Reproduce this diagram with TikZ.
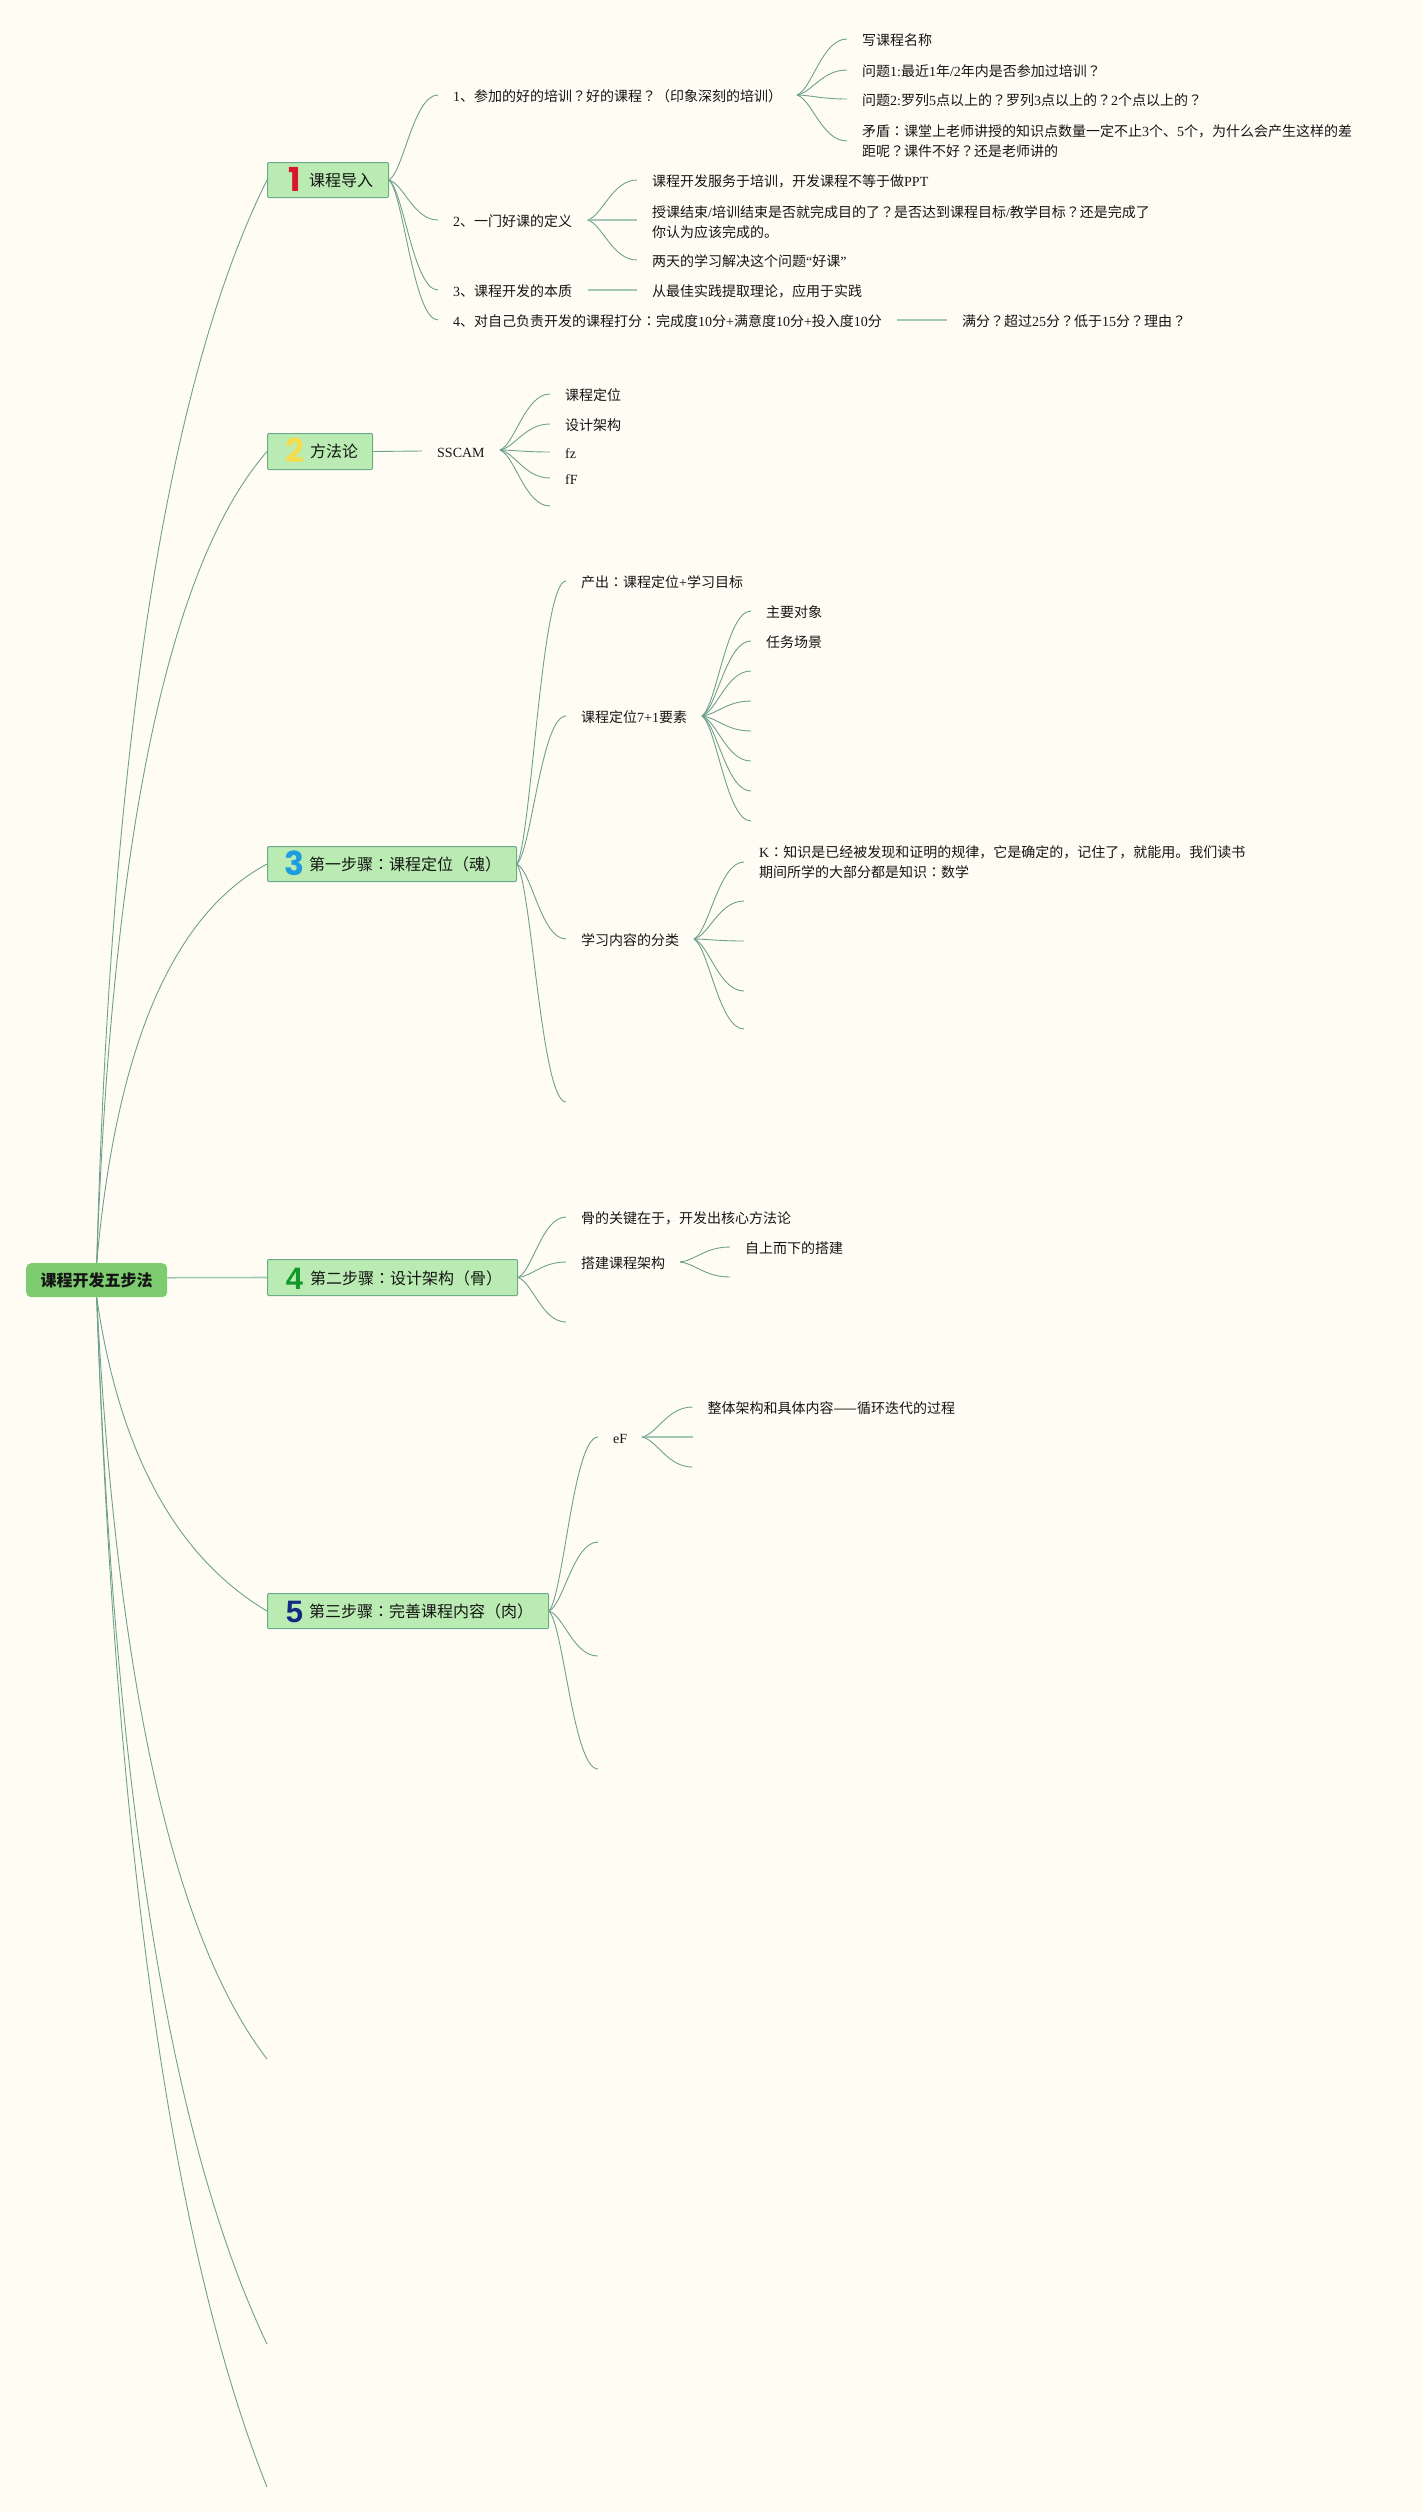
\documentclass[tikz,border=0pt]{standalone}
\usepackage{fontspec}
\usetikzlibrary{calc}
\setmainfont{Noto Sans CJK SC}
\newfontfamily\latf{Liberation Serif}
\newfontfamily\numf{Liberation Sans}
\newfontfamily\numg{Poppins}
\newfontfamily\jpf{Noto Sans CJK JP}
\newcommand\la[1]{{\latf #1}}
\catcode`\？=13 \def？{{\jpf\char"FF1F\relax}}
\catcode`\：=13 \def：{{\jpf\char"FF1A\relax}}
\definecolor{bgc}{HTML}{FFFDF3}
\definecolor{linec}{HTML}{6FA08D}
\definecolor{linel}{HTML}{A3C8B6}
\definecolor{boxf}{HTML}{BAEBB2}
\definecolor{boxd}{HTML}{6DA98C}
\definecolor{rootf}{HTML}{7ECC70}
\definecolor{txt}{HTML}{151515}
\definecolor{numa}{HTML}{D8172D}
\definecolor{numb}{HTML}{F5DC4E}
\definecolor{numc}{HTML}{1E9CE0}
\definecolor{numd}{HTML}{12982A}
\definecolor{nume}{HTML}{122A80}
\tikzset{
  conn/.style={draw=linec,line width=.9pt},
  thick line/.style={draw=linel,line width=1.6pt},
  lab/.style={anchor=west,inner xsep=15pt,inner ysep=0pt,text=txt,font=\fontsize{14}{20}\selectfont,text height=13.8pt,text depth=.2pt},
  mlab/.style={anchor=west,inner xsep=15pt,inner ysep=0pt,text=txt,font=\fontsize{14}{20}\selectfont,align=left},
  boxn/.style={draw=boxd,fill=boxf,line width=1pt,rounded corners=1pt,inner sep=0pt,anchor=north west},
  boxt/.style={anchor=west,inner sep=0pt,text=txt,font=\fontsize{16}{20}\selectfont,text height=14.3pt,text depth=1.3pt},
  numn/.style={inner sep=0pt,font=\fontsize{31}{31}\selectfont\numf\bfseries,text height=22.5pt,text depth=0pt},
  numr/.style={inner sep=0pt,font=\fontsize{33}{33}\selectfont\numg\bfseries,text height=23pt,text depth=0pt},
  rootn/.style={fill=rootf,rounded corners=5pt,inner sep=0pt,minimum width=141pt,minimum height=34pt,anchor=north west,text=txt,font=\fontsize{16}{20}\selectfont\bfseries}
}
\newcommand\cv[2]{\draw[conn] (#1) .. controls ($(#1)+0.3*(#2 |- #1)-0.3*(#1)+0.1*(#1 |- #2)-0.1*(#1)$) and ($(#1 |- #2)!.5!(#2)$) .. (#2);}
\begin{document}
\begin{tikzpicture}[x=1pt,y=-1pt]
\useasboundingbox (0,0) rectangle (1422,2513);
\fill[bgc] (0,0) rectangle (1422,2513);
% root and main boxes
\node[rootn] (root) at (26,1263) {课程开发五步法};
\node[boxn,minimum width=121pt,minimum height=35pt] (b1) at (267,162) {};
\node[boxn,minimum width=105pt,minimum height=36pt] (b2) at (267,433) {};
\node[boxn,minimum width=249pt,minimum height=35pt] (b3) at (267,846) {};
\node[boxn,minimum width=250pt,minimum height=36pt] (b4) at (267,1259) {};
\node[boxn,minimum width=281pt,minimum height=35pt] (b5) at (267,1593) {};
\node[numr,text=numa] (n1) at (295,180) {1};
\node[numr,text=numb] (n2) at (294.5,451) {2};
\node[numr,text=numc] (n3) at (294,864) {3};
\node[numn,text=numd] (n4) at (294.5,1278) {4};
\node[numn,text=nume] (n5) at (294.5,1611) {5};
\node[boxt] (t1) at (309,180) {课程导入};
\node[boxt] (t2) at (310,451) {方法论};
\node[boxt] (t3) at (309,864) {第一步骤：课程定位（魂）};
\node[boxt] (t4) at (310,1278) {第二步骤：设计架构（骨）};
\node[boxt] (t5) at (309,1611) {第三步骤：完善课程内容（肉）};
% free ends of the root
\coordinate (r6) at (267,2059);
\coordinate (r7) at (267,2344);
\coordinate (r8) at (267,2487);
\draw[conn] (root.north) .. controls (111,740) and (168,379) .. (b1.west);
\draw[conn] (root.north) .. controls (112,834) and (169,564) .. (b2.west);
\draw[conn] (root.north) .. controls (116,1048) and (172,915) .. (b3.west);
\draw[thick line] ([yshift=2.5pt]root.east) -- (b4.west);
\draw[conn] (root.south) .. controls (119,1452) and (176,1557) .. (b5.west);
\draw[conn] (root.south) .. controls (117,1684) and (174,1938) .. (r6);
\draw[conn] (root.south) .. controls (114,1792) and (170,2141) .. (r7);
\draw[conn] (root.south) .. controls (116,1852) and (172,2249) .. (r8);
% branch 1
\node[lab] (a1) at (438,95) {\la{1}、参加的好的培训？好的课程？（印象深刻的培训）};
\node[lab] (a2) at (438,220) {\la{2}、一门好课的定义};
\node[lab] (a3) at (438,290) {\la{3}、课程开发的本质};
\node[lab] (a4) at (438,320) {\la{4}、对自己负责开发的课程打分：完成度\la{10}分\la{+}满意度\la{10}分\la{+}投入度\la{10}分};
\cv{b1.east}{a1.west}\cv{b1.east}{a2.west}\cv{b1.east}{a3.west}\cv{b1.east}{a4.west}
\coordinate (f1) at (797,95);
\node[lab] (a11) at (847,39) {写课程名称};
\node[lab] (a12) at (847,70) {问题\la{1:}最近\la{1}年\la{/2}年内是否参加过培训？};
\node[lab] (a13) at (847,99) {问题\la{2:}罗列\la{5}点以上的？罗列\la{3}点以上的？\la{2}个点以上的？};
\node[mlab] (a14) at (847,141) {矛盾：课堂上老师讲授的知识点数量一定不止\la{3}个、\la{5}个，为什么会产生这样的差\\距呢？课件不好？还是老师讲的};
\cv{f1}{a11.west}\cv{f1}{a12.west}\cv{f1}{a13.west}\cv{f1}{a14.west}
\coordinate (f2) at (587.5,220);
\node[lab] (a21) at (637,180) {课程开发服务于培训，开发课程不等于做\la{PPT}};
\node[mlab] (a22) at (637,222) {授课结束\la{/}培训结束是否就完成目的了？是否达到课程目标\la{/}教学目标？还是完成了\\你认为应该完成的。};
\node[lab] (a23) at (637,260) {两天的学习解决这个问题\la{“}好课\la{”}};
\cv{f2}{a21.west}
\draw[thick line] (f2) -- (f2 -| a22.west);
\cv{f2}{a23.west}
\coordinate (f3) at (587.5,290);
\node[lab] (a31) at (637,290) {从最佳实践提取理论，应用于实践};
\draw[thick line] (f3) -- (a31.west);
\coordinate (f4) at (897,320);
\node[lab] (a41) at (947,320) {满分？超过\la{25}分？低于\la{15}分？理由？};
\draw[thick line] (f4) -- (a41.west);
% branch 2
\node[lab] (c1) at (422,451) {\la{SSCAM}};
\draw[conn] (b2.east) -- (c1.west);
\coordinate (f5) at (500,450);
\node[lab] (c11) at (550,394) {课程定位};
\node[lab] (c12) at (550,424) {设计架构};
\node[lab] (c13) at (550,452) {\la{fz}};
\node[lab] (c14) at (550,478) {\la{fF}};
\coordinate (c15) at (550,506);
\cv{f5}{c11.west}\cv{f5}{c12.west}\cv{f5}{c13.west}\cv{f5}{c14.west}\cv{f5}{c15}
% branch 3
\node[lab] (d1) at (566,581) {产出：课程定位\la{+}学习目标};
\node[lab] (d2) at (566,716) {课程定位\la{7+1}要素};
\node[lab] (d3) at (566,939) {学习内容的分类};
\coordinate (d4) at (566,1102);
\cv{b3.east}{d1.west}\cv{b3.east}{d2.west}\cv{b3.east}{d3.west}\cv{b3.east}{d4}
\coordinate (f6) at (702,716);
\node[lab] (d21) at (751,611) {主要对象};
\node[lab] (d22) at (751,641) {任务场景};
\coordinate (d23) at (751,671);
\coordinate (d24) at (751,701);
\coordinate (d25) at (751,731);
\coordinate (d26) at (751,761);
\coordinate (d27) at (751,791);
\coordinate (d28) at (751,821);
\cv{f6}{d21.west}\cv{f6}{d22.west}\cv{f6}{d23}\cv{f6}{d24}\cv{f6}{d25}\cv{f6}{d26}\cv{f6}{d27}\cv{f6}{d28}
\coordinate (f7) at (694,939);
\node[mlab] (d31) at (744,862) {\la{K}：知识是已经被发现和证明的规律，它是确定的，记住了，就能用。我们读书\\期间所学的大部分都是知识：数学};
\coordinate (d32) at (744,901);
\coordinate (d33) at (744,941);
\coordinate (d34) at (744,991);
\coordinate (d35) at (744,1029);
\cv{f7}{d31.west}\cv{f7}{d32}\cv{f7}{d33}\cv{f7}{d34}\cv{f7}{d35}
% branch 4
\node[lab] (e1) at (566,1217) {骨的关键在于，开发出核心方法论};
\node[lab] (e2) at (566,1262) {搭建课程架构};
\coordinate (e3) at (566,1322);
\cv{b4.east}{e1.west}\cv{b4.east}{e2.west}\cv{b4.east}{e3}
\coordinate (f8) at (680,1262);
\node[lab] (e21) at (730,1247) {自上而下的搭建};
\coordinate (e22) at (730,1277);
\cv{f8}{e21.west}\cv{f8}{e22}
% branch 5
\node[lab] (g1) at (598,1437) {\la{eF}};
\coordinate (g2) at (598,1542);
\coordinate (g3) at (598,1656);
\coordinate (g4) at (598,1769);
\cv{b5.east}{g1.west}\cv{b5.east}{g2}\cv{b5.east}{g3}\cv{b5.east}{g4}
\coordinate (f9) at (642,1437);
\node[lab] (g11) at (692.5,1407) {整体架构和具体内容——循环迭代的过程};
\coordinate (g12) at (692.5,1437);
\coordinate (g13) at (692.5,1467);
\cv{f9}{g11.west}
\draw[thick line] (f9) -- (g12);
\cv{f9}{g13}
\end{tikzpicture}
\end{document}
